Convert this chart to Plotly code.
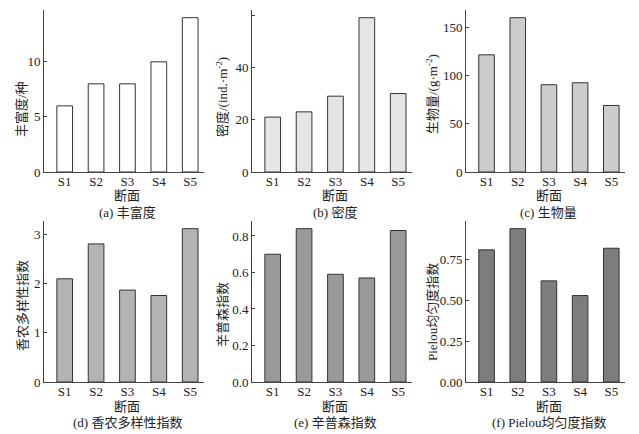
import plotly.graph_objects as go

sites = ['S1', 'S2', 'S3', 'S4', 'S5']

richness = [6, 8, 8, 10, 14]
density = [21, 23, 29, 59, 30]
biomass = [121.5, 160, 90.5, 92.5, 69]
shannon = [2.1, 2.81, 1.87, 1.76, 3.12]
simpson = [0.70, 0.84, 0.59, 0.57, 0.83]
pielou = [0.81, 0.94, 0.62, 0.53, 0.82]

y_titles = ['丰富度/种', '密度/(ind.·m<sup>-2</sup>)', '生物量/(g·m<sup>-2</sup>)',
            '香农多样性指数', '辛普森指数', 'Pielou均匀度指数']
captions = ['(a) 丰富度', '(b) 密度', '(c) 生物量',
            '(d) 香农多样性指数', '(e) 辛普森指数', '(f) Pielou均匀度指数']
tick_vals = [[0, 5, 10], [0, 20, 40, 60], [0, 50, 100, 150],
             [0, 1, 2, 3], [0, 0.2, 0.4, 0.6, 0.8], [0, 0.25, 0.5, 0.75]]
tick_text = [['0', '5', '10'], ['0', '20', '40', '60'], ['0', '50', '100', '150'],
             ['0', '1', '2', '3'], ['0.0', '0.2', '0.4', '0.6', '0.8'],
             ['0.00', '0.25', '0.50', '0.75']]
series = [richness, density, biomass, shannon, simpson, pielou]
fills = ['#ffffff', '#e5e5e5', '#cccccc', '#b3b3b3', '#999999', '#7d7d7d']

# page offset of the figure inside the browser window
OFF = 8
W, H = 639 - OFF, 434 - OFF
FONT = 'Liberation Serif, Times New Roman, Noto Sans CJK SC'
TXT = '#222222'
cols = [(44, 204), (252, 412), (466, 625)]
rows = [(10, 172), (221, 382)]
ytitle_x = [22, 222, 432]
ytitle_y = [109, 97, 94, 306, 315, 312]


def px(x):
    return (x - OFF) / W


def py(y):
    return 1 - (y - OFF) / H


def label(text, xref, x, y, angle=0):
    fig.add_annotation(
        text=text, xref=xref, yref='paper', x=x, y=y, textangle=angle,
        xanchor='center', yanchor='middle', showarrow=False,
        font=dict(family=FONT, size=13, color=TXT),
    )


fig = go.Figure()
for i, vals in enumerate(series):
    r, c = divmod(i, 3)
    n = i + 1
    xa = 'x' if n == 1 else f'x{n}'
    ya = 'y' if n == 1 else f'y{n}'
    fig.add_trace(go.Bar(
        x=sites, y=vals, xaxis=xa, yaxis=ya, width=0.5,
        marker=dict(color=fills[i], line=dict(color='#333333', width=1)),
        showlegend=False,
    ))
    x0, x1 = cols[c]
    y0, y1 = rows[r]
    axis_style = dict(showline=True, linecolor='#444444', linewidth=1,
                      showgrid=False, zeroline=False, mirror=False,
                      automargin=False,
                      tickfont=dict(family=FONT, size=13, color=TXT))
    fig.update_layout({
        f'xaxis{"" if n == 1 else n}': dict(
            domain=[px(x0), px(x1)], anchor=ya, range=[-0.66, 4.44],
            ticks='', ticklen=0, ticklabelstandoff=-3,
            **axis_style),
        f'yaxis{"" if n == 1 else n}': dict(
            domain=[py(y1), py(y0)], anchor=xa,
            range=[0, max(vals) * 1.05],
            tickvals=tick_vals[i], ticktext=tick_text[i],
            ticks='inside', ticklen=3, tickcolor='#444444',
            **axis_style),
    })
    label(y_titles[i], 'paper', px(ytitle_x[c]), py(ytitle_y[i]), angle=-90)
    label('断面', xa, 'S3', py(y1 + 24))
    label(captions[i], xa, 'S3', py(y1 + 40))

fig.update_layout(
    width=W, height=H,
    margin=dict(l=0, r=0, t=0, b=0),
    plot_bgcolor='white', paper_bgcolor='white',
    bargap=0.5,
)

fig.write_html('out.html')
